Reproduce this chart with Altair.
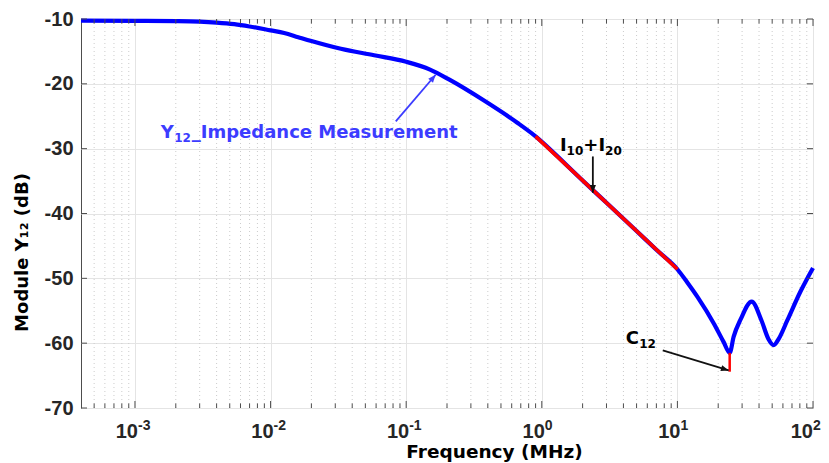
import math
import altair as alt
import pandas as pd

# ---------------- data ----------------
freq_mhz = [0.0004, 0.001, 0.002, 0.003, 0.004, 0.0054, 0.007, 0.01, 0.0126, 0.016, 0.02, 0.033, 0.058,
            0.1, 0.15, 0.21, 0.37, 0.66, 0.9, 1.5, 2.0, 3.0, 5.0, 7.0, 10.0, 11.8, 14.1, 18.6, 21.9,
            24.3, 26.0, 29.3, 35.3, 41.7, 46.8, 51.3, 56.0, 64.6, 81.0, 100.0]
module_db = [-10.25, -10.28, -10.32, -10.4, -10.55, -10.8, -11.15, -11.75, -12.15, -12.8, -13.4, -14.6, -15.6,
             -16.6, -17.8, -19.4, -22.5, -26.0, -28.1, -32.4, -34.9, -38.35, -42.7, -45.6, -48.6,
             -50.6, -52.9, -57.0, -59.8,
             -61.5, -59.0, -56.3, -53.6, -56.5, -59.3, -60.3, -59.3, -56.5, -52.0, -48.4]

fit_freq = [0.9, 10.0]          # I10+I20 asymptote
fit_db = [-28.1, -48.6]
c12_freq = [24.3, 24.3]         # C12 marker
c12_db = [-61.5, -64.4]

x_major = [1e-3, 1e-2, 1e-1, 1.0, 10.0, 100.0]
x_exponents = ["-3", "-2", "-1", "0", "1", "2"]
y_major = [-70, -60, -50, -40, -30, -20, -10]

# annotation anchors (left end of each label, on its baseline)
y12_label_freq, y12_label_db = 0.00155, -28.3
i_label_freq, i_label_db = 1.36, -30.4
c12_label_freq, c12_label_db = 4.16, -60.2

arrow_from_freq = [0.0838, 2.38, 7.8]
arrow_from_db = [-25.8, -31.2, -61.1]
arrow_to_freq = [0.165, 2.38, 23.9]
arrow_to_db = [-18.6, -36.8, -64.2]
arrow_group = ["blue", "black", "black"]

# ---------------- layout ----------------
W, H = 732, 389
XMIN, XMAX = 4e-4, 100.0
YMIN, YMAX = -70, -10
DEC_PX = W / math.log10(XMAX / XMIN)
DB_PX = H / (YMAX - YMIN)

x_minor = [m * 10.0 ** k for k in range(-4, 2) for m in range(2, 10)
           if XMIN < m * 10.0 ** k < XMAX]

xs = alt.Scale(type="log", domain=[XMIN, XMAX], nice=False)
ys = alt.Scale(domain=[YMIN, YMAX], nice=False)

BLUE_TXT = "#3c3cff"
AX_COL = "#262626"
TFONT = "DejaVu Sans"
LFONT = "Liberation Sans"

x_axis = alt.Axis(values=x_major, grid=True, gridColor="#e4e4e4", gridWidth=1,
                  labels=False, ticks=False, tickSize=0, domain=False,
                  title="Frequency (MHz)", titleFont=TFONT, titleFontSize=18.5,
                  titleFontWeight="bold", titleColor="#000000",
                  titleX=413, titleY=49, titleBaseline="alphabetic", titleAlign="center")
y_axis = alt.Axis(values=y_major, grid=True, gridColor="#e4e4e4", gridWidth=1,
                  ticks=False, tickSize=0, domain=False, labelPadding=8,
                  labelFont=LFONT, labelFontSize=20, labelFontWeight="bold",
                  labelColor=AX_COL, labelExpr="'' + datum.value",
                  title="Module Y₁₂ (dB)", titleFont=TFONT, titleFontSize=18,
                  titleFontWeight="bold", titleColor="#000000",
                  titleX=-59, titleY=233, titleBaseline="middle", titleAlign="center")


def X(field):
    return alt.X(field, type="quantitative", scale=xs, axis=x_axis)


def Y(field):
    return alt.Y(field, type="quantitative", scale=ys, axis=y_axis)


curve = pd.DataFrame({"f": freq_mhz, "db": module_db})
fit = pd.DataFrame({"f": fit_freq, "db": fit_db})
c12 = pd.DataFrame({"f": c12_freq, "db": c12_db})

# inward ticks on all four sides
tick_rows = []
for v in x_major + x_minor:
    ln = 7 if v in x_major else 4.5
    tick_rows.append({"f": v, "f2": v, "db": YMIN, "db2": YMIN + ln / DB_PX})
    tick_rows.append({"f": v, "f2": v, "db": YMAX, "db2": YMAX - ln / DB_PX})
for v in y_major:
    tick_rows.append({"f": XMIN, "f2": XMIN * 10 ** (6 / DEC_PX), "db": v, "db2": v})
    tick_rows.append({"f": XMAX, "f2": XMAX / 10 ** (6 / DEC_PX), "db": v, "db2": v})
ticks = pd.DataFrame(tick_rows)

xlab = pd.DataFrame({"f": x_major, "exp": x_exponents, "db": [YMIN] * len(x_major)})
xlab_inner = xlab.iloc[:-1]
xlab_last = xlab.iloc[-1:]

arrows = pd.DataFrame({"f": arrow_from_freq, "db": arrow_from_db,
                       "f2": arrow_to_freq, "db2": arrow_to_db, "g": arrow_group})
arrows["ang"] = [
    math.degrees(math.atan2(DEC_PX * math.log10(b / a), DB_PX * (d2 - d1))) % 360
    for a, b, d1, d2 in zip(arrow_from_freq, arrow_to_freq, arrow_from_db, arrow_to_db)
]

layers = []

layers.append(alt.Chart(pd.DataFrame({"f": x_minor})).mark_rule(
    color="#cccccc", strokeWidth=1, strokeDash=[1, 3]
).encode(x=X("f")))

layers.append(alt.Chart(curve).mark_line(color="#0000ff", strokeWidth=4.2, interpolate="monotone").encode(
    x=X("f"), y=Y("db")))

layers.append(alt.Chart(fit).mark_line(color="#ff0000", strokeWidth=3.6).encode(x=X("f"), y=Y("db")))
layers.append(alt.Chart(c12).mark_line(color="#ff0000", strokeWidth=2.5).encode(x=X("f"), y=Y("db")))

layers.append(alt.Chart(ticks).mark_rule(color="#4d4d4d", strokeWidth=1).encode(
    x=X("f"), x2="f2:Q", y=Y("db"), y2="db2:Q"))

for df, shift in [(xlab_inner, 3), (xlab_last, 0)]:
    layers.append(alt.Chart(df).mark_text(
        text="10", align="right", baseline="alphabetic", dx=shift, dy=30,
        font=LFONT, fontSize=20, fontWeight="bold", color=AX_COL
    ).encode(x=X("f"), y=Y("db")))
    layers.append(alt.Chart(df).mark_text(
        align="left", baseline="alphabetic", dx=shift, dy=22,
        font=LFONT, fontSize=14, fontWeight="bold", color=AX_COL
    ).encode(x=X("f"), y=Y("db"), text="exp:N"))


def label_piece(text, f, db, dx, sub, color):
    return alt.Chart(pd.DataFrame({"t": [text], "f": [f], "db": [db]})).mark_text(
        align="left", baseline="alphabetic", dx=dx, dy=4 if sub else 0,
        font=TFONT, fontSize=12 if sub else 18, fontWeight="bold", color=color
    ).encode(x=X("f"), y=Y("db"), text="t:N")


# "Y12_Impedance Measurement"
for txt, dx, sub in [("Y", 0, False), ("12", 13.5, True), ("_Impedance Measurement", 31, False)]:
    layers.append(label_piece(txt, y12_label_freq, y12_label_db, dx, sub, BLUE_TXT))
# "I10+I20"
for txt, dx, sub in [("I", 0, False), ("10", 6.7, True), ("+I", 23.4, False), ("20", 45.2, True)]:
    layers.append(label_piece(txt, i_label_freq, i_label_db, dx, sub, "#000000"))
# "C12"
for txt, dx, sub in [("C", 0, False), ("12", 13.4, True)]:
    layers.append(label_piece(txt, c12_label_freq, c12_label_db, dx, sub, "#000000"))

arrow_color = alt.Color("g:N", scale=alt.Scale(domain=["blue", "black"], range=[BLUE_TXT, "#111111"]), legend=None)

layers.append(alt.Chart(arrows).mark_rule(strokeWidth=1.8).encode(
    x=X("f"), x2="f2:Q", y=Y("db"), y2="db2:Q", color=arrow_color))

layers.append(alt.Chart(arrows).mark_point(
    shape="M0,0L-0.4,1L0.4,1Z", filled=True, opacity=1, size=240, strokeWidth=0
).encode(x=X("f2"), y=Y("db2"), angle=alt.Angle("ang:Q", scale=None), color=arrow_color))

chart = alt.layer(*layers).properties(
    width=W, height=H,
    autosize=alt.AutoSizeParams(type="none"),
    padding={"left": 73, "top": 11, "right": 8, "bottom": 55},
    background="#ffffff",
).configure_view(stroke="#4d4d4d", strokeWidth=1)

chart.save("out.html", embed_options={"renderer": "svg", "actions": False})
